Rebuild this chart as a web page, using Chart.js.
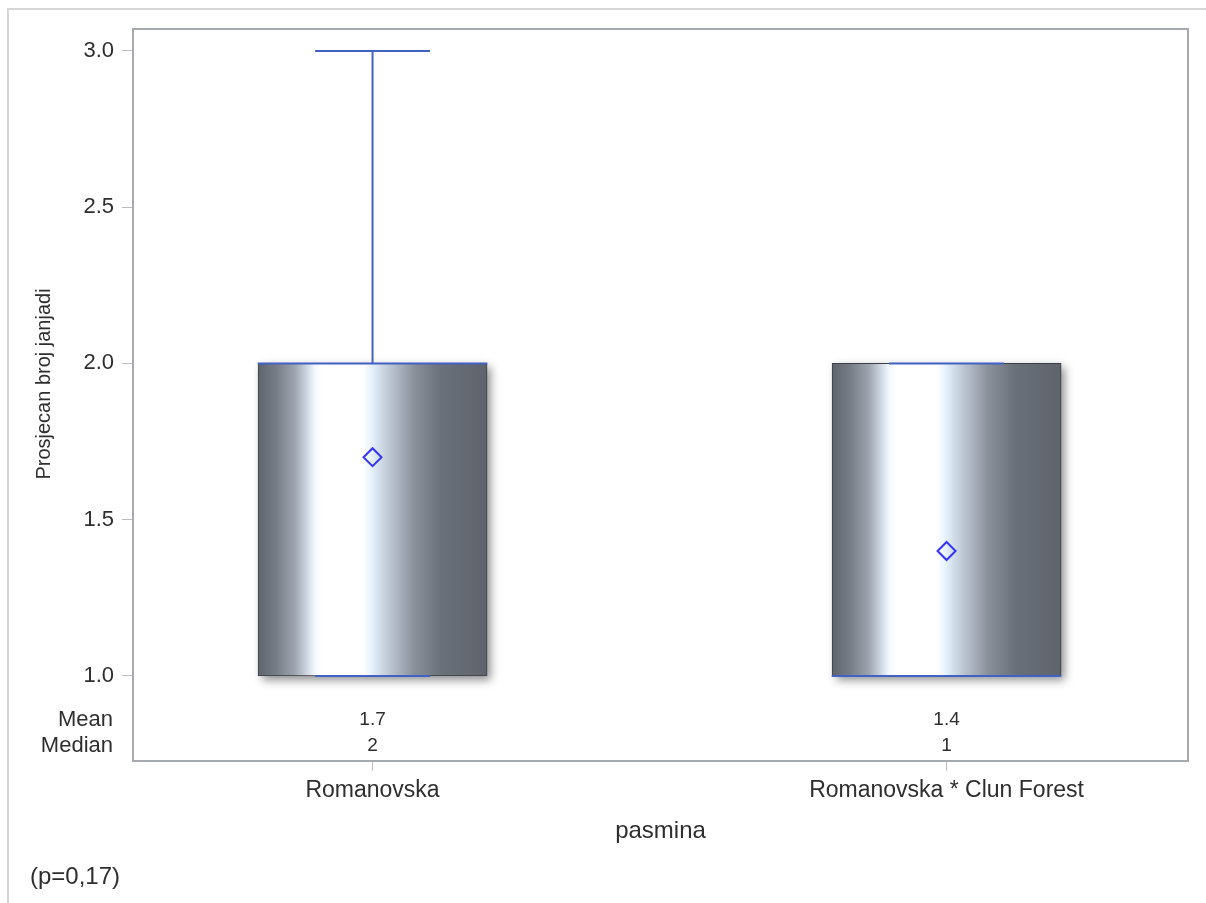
<!DOCTYPE html>
<html>
<head>
<meta charset="utf-8">
<script src="https://cdn.jsdelivr.net/npm/chart.js@4"></script>
<style>
  html, body { margin: 0; padding: 0; background: #fff; }
  #wrap { position: relative; width: 1206px; height: 903px; }
</style>
</head>
<body>
<div id="wrap"><canvas id="c"></canvas></div>
<script>
// box plot data
const categories = ['Romanovska', 'Romanovska * Clun Forest'];
const minVals = [1, 1];
const q1Vals = [1, 1];
const medianVals = [2, 1];
const q3Vals = [2, 2];
const maxVals = [3, 2];
const meanVals = [1.7, 1.4];
const meanLabels = ['1.7', '1.4'];
const medianLabels = ['2', '1'];
const yTicks = [1.0, 1.5, 2.0, 2.5, 3.0];

const FONT = "'Liberation Sans', Arial, sans-serif";
const TEXT = '#2e2e2e';
const BOX_HALF = 0.2;   // in category units
const CAP_HALF = 0.1;
const WHISKER = '#4162c2';

function boxFill(ctx) {
  const chart = ctx.chart;
  if (!chart.chartArea || !ctx.raw) return '#8a9099';
  const x = chart.scales.x;
  const l = x.getPixelForValue(ctx.raw.x - BOX_HALF);
  const r = x.getPixelForValue(ctx.raw.x + BOX_HALF);
  const g = chart.ctx.createLinearGradient(l, 0, r, 0);
  g.addColorStop(0.00, '#5e636c');
  g.addColorStop(0.08, '#777d87');
  g.addColorStop(0.16, '#9ca3ae');
  g.addColorStop(0.22, '#d3dce8');
  g.addColorStop(0.25, '#f4f9ff');
  g.addColorStop(0.28, '#ffffff');
  g.addColorStop(0.46, '#ffffff');
  g.addColorStop(0.50, '#e4effc');
  g.addColorStop(0.58, '#b9c3d0');
  g.addColorStop(0.68, '#8b919b');
  g.addColorStop(0.80, '#6a7079');
  g.addColorStop(1.00, '#5e636c');
  return g;
}

function line(ctx, x1, y1, x2, y2) {
  ctx.beginPath();
  ctx.moveTo(x1, y1);
  ctx.lineTo(x2, y2);
  ctx.stroke();
}

const boxPlugin = {
  id: 'boxextras',
  beforeDraw(chart) {
    const ctx = chart.ctx;
    ctx.save();
    ctx.strokeStyle = '#d6d6d6';
    ctx.lineWidth = 2;
    ctx.beginPath();
    ctx.moveTo(8, 903);
    ctx.lineTo(8, 9);
    ctx.lineTo(1206, 9);
    ctx.stroke();
    ctx.restore();
  },
  beforeDatasetDraw(chart, args) {
    if (args.meta.type !== 'bar') return;
    // soft drop shadow behind each box (the bar element clips its own)
    const ctx = chart.ctx;
    ctx.save();
    ctx.shadowColor = 'rgba(0,0,0,0.45)';
    ctx.shadowBlur = 9;
    ctx.shadowOffsetX = 4;
    ctx.shadowOffsetY = 4;
    ctx.fillStyle = '#60656e';
    args.meta.data.forEach(el => {
      const p = el.getProps(['x', 'y', 'base', 'width'], true);
      const top = Math.min(p.y, p.base), h = Math.abs(p.base - p.y);
      ctx.fillRect(p.x - p.width / 2, top, p.width, h);
    });
    ctx.restore();
  },
  afterDatasetDraw(chart, args) {
    if (args.meta.type !== 'bar') return;
    const ctx = chart.ctx;
    const x = chart.scales.x, y = chart.scales.y;
    ctx.save();
    ctx.strokeStyle = WHISKER;
    ctx.lineWidth = 2;
    categories.forEach((c, i) => {
      const cx = x.getPixelForValue(i);
      line(ctx, cx, y.getPixelForValue(q3Vals[i]), cx, y.getPixelForValue(maxVals[i]));
      line(ctx, cx, y.getPixelForValue(q1Vals[i]), cx, y.getPixelForValue(minVals[i]));
      line(ctx, x.getPixelForValue(i - CAP_HALF), y.getPixelForValue(maxVals[i]),
                x.getPixelForValue(i + CAP_HALF), y.getPixelForValue(maxVals[i]));
      line(ctx, x.getPixelForValue(i - CAP_HALF), y.getPixelForValue(minVals[i]),
                x.getPixelForValue(i + CAP_HALF), y.getPixelForValue(minVals[i]));
      line(ctx, x.getPixelForValue(i - BOX_HALF), y.getPixelForValue(medianVals[i]),
                x.getPixelForValue(i + BOX_HALF), y.getPixelForValue(medianVals[i]));
    });
    ctx.restore();
  },
  afterDraw(chart) {
    const ctx = chart.ctx;
    const a = chart.chartArea;
    const x = chart.scales.x;
    ctx.save();
    // plot frame
    ctx.strokeStyle = '#a6aaae';
    ctx.lineWidth = 2;
    ctx.strokeRect(a.left, a.top, a.right - a.left, a.bottom - a.top);

    ctx.fillStyle = TEXT;
    ctx.textBaseline = 'middle';
    // stat table inside the plot
    ctx.font = '22px ' + FONT;
    ctx.textAlign = 'right';
    ctx.fillText('Mean', a.left - 20, a.bottom - 41);
    ctx.fillText('Median', a.left - 20, a.bottom - 15);
    ctx.font = '19px ' + FONT;
    ctx.textAlign = 'center';
    categories.forEach((c, i) => {
      const cx = x.getPixelForValue(i);
      ctx.fillText(meanLabels[i], cx, a.bottom - 41);
      ctx.fillText(medianLabels[i], cx, a.bottom - 15);
    });

    // axis titles
    ctx.font = '24px ' + FONT;
    ctx.fillText('pasmina', (a.left + a.right) / 2, 831);
    ctx.save();
    ctx.translate(44, 384);
    ctx.rotate(-Math.PI / 2);
    ctx.font = '20px ' + FONT;
    ctx.fillText('Prosjecan broj janjadi', 0, 0);
    ctx.restore();

    // footnote
    ctx.textAlign = 'left';
    ctx.font = '24px ' + FONT;
    ctx.fillText('(p=0,17)', 30, 877);
    ctx.restore();
  }
};

new Chart(document.getElementById('c'), {
  type: 'bar',
  data: {
    datasets: [
      {
        type: 'scatter',
        label: 'Mean',
        data: meanVals.map((m, i) => ({ x: i, y: m })),
        pointStyle: 'rectRot',
        pointRadius: 9,
        pointBorderWidth: 2,
        borderColor: '#3434ff',
        backgroundColor: 'rgba(0,0,0,0)',
        order: 1
      },
      {
        type: 'bar',
        label: 'box',
        data: categories.map((c, i) => ({ x: i, y: [q1Vals[i], q3Vals[i]] })),
        backgroundColor: boxFill,
        borderColor: '#3d3f44',
        borderWidth: 1,
        borderSkipped: false,
        barThickness: 229,
        order: 2
      }
    ]
  },
  options: {
    responsive: true,
    maintainAspectRatio: false,
    animation: false,
    layout: { padding: { top: 29, right: 18, left: 0, bottom: 0 } },
    plugins: { legend: { display: false }, tooltip: { enabled: false } },
    scales: {
      x: {
        type: 'linear',
        offset: false,
        min: -0.4173,
        max: 1.4206,
        afterFit: s => { s.height = 142; },
        afterBuildTicks: s => { s.ticks = categories.map((c, i) => ({ value: i })); },
        ticks: {
          callback: v => categories[v],
          color: TEXT,
          font: { family: FONT, size: 23 },
          padding: 6,
          maxRotation: 0,
          autoSkip: false
        },
        grid: { offset: false, drawOnChartArea: false, drawTicks: true, tickLength: 10, color: '#bdbdbd' },
        border: { display: false }
      },
      y: {
        type: 'linear',
        min: 0.728,
        max: 3.07,
        afterFit: s => { s.width = 133; },
        afterBuildTicks: s => { s.ticks = yTicks.map(v => ({ value: v })); },
        ticks: {
          callback: v => v.toFixed(1),
          color: TEXT,
          font: { family: FONT, size: 22 },
          padding: 8
        },
        grid: { drawOnChartArea: false, drawTicks: true, tickLength: 11, color: '#bdbdbd' },
        border: { display: false }
      }
    }
  },
  plugins: [boxPlugin]
});
</script>
</body>
</html>
